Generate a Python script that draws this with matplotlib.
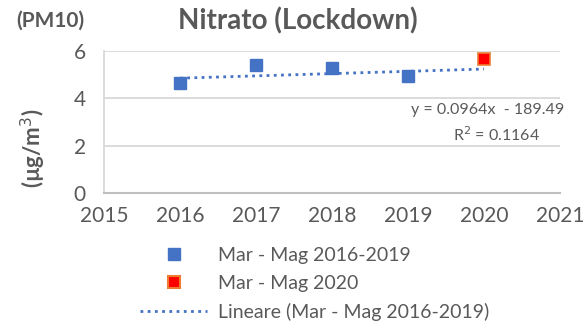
import numpy as np
import matplotlib.pyplot as plt
from matplotlib.lines import Line2D

plt.rcParams['font.family'] = ['Lato', 'DejaVu Sans']

# nitrate PM10, March-May means
anni = [2016, 2017, 2018, 2019]
valori = [4.65, 5.40, 5.30, 4.95]
anno_2020 = [2020]
valore_2020 = [5.65]

# linear trend as reported
pendenza = 0.0964
intercetta = -189.49
r2 = 0.1164
x_trend = [2016, 2020]

blu = '#4472C4'
grigio = '#595959'

fig = plt.figure(figsize=(5.83, 3.22), dpi=100)
ax = fig.add_axes([104/583, 1-193/322, (560-104)/583, (193-51)/322])

xt = np.array(x_trend)
ax.plot(xt, pendenza*xt + intercetta, color=blu, lw=2,
        linestyle=(0, (1, 1.6)), zorder=2)
ax.plot(anni, valori, 's', color=blu, ms=9, zorder=3)
ax.plot(anno_2020, valore_2020, 's', color='#FF0000', mec='#ED7D31',
        mew=1.2, ms=9, zorder=3)

ax.set_xlim(2015, 2021)
ax.set_ylim(0, 6)
ax.set_xticks(range(2015, 2022))
ax.set_yticks([0, 2, 4, 6])
ax.grid(axis='y', color='#D9D9D9', lw=1.3)
ax.set_axisbelow(True)
for s in ['top', 'right']:
    ax.spines[s].set_visible(False)
ax.spines['bottom'].set_color('#BFBFBF')
ax.spines['bottom'].set_linewidth(1.5)
ax.spines['left'].set_color('#D9D9D9')
ax.spines['left'].set_linewidth(1.3)
ax.tick_params(length=0, labelsize=15, labelcolor=grigio)
ax.tick_params(axis='y', pad=13)
ax.tick_params(axis='x', pad=9)

ax.text(1.01, 0.585, f'y = {pendenza}x  - {-intercetta}', transform=ax.transAxes,
        ha='right', va='center', fontsize=11.5, color=grigio, clip_on=False)
ax.text(0.86, 0.41, f'R$^2$ = {r2}', transform=ax.transAxes,
        ha='center', va='center', fontsize=11.5, color=grigio)

fig.text(298/583, 1-21/322, 'Nitrato (Lockdown)', ha='center', va='center',
         fontsize=20, fontweight='bold', color=grigio)
fig.text(50/583, 1-21/322, '(PM10)', ha='center', va='center',
         fontsize=15, fontweight='bold', color=grigio)
fig.text(33/583, 1-148/322, '(µg/m$^3$)', ha='center', va='center',
         rotation=90, fontsize=16, fontweight='bold', color=grigio)

handles = [
    Line2D([], [], ls='none', marker='s', color=blu, ms=9),
    Line2D([], [], ls='none', marker='s', color='#FF0000', mec='#ED7D31',
           mew=1.5, ms=9),
    Line2D([], [], color=blu, lw=2, linestyle=(0, (1, 1.6))),
]
etichette = ['Mar - Mag 2016-2019', 'Mar - Mag 2020',
             'Lineare (Mar - Mag 2016-2019)']
fig.legend(handles, etichette, loc='upper left',
           bbox_to_anchor=(140/583, 1-247/322), frameon=False,
           fontsize=14, labelcolor=grigio, handlelength=3.45,
           handletextpad=0.57, labelspacing=0.56, borderpad=0,
           borderaxespad=0)

fig.savefig('out.png')
